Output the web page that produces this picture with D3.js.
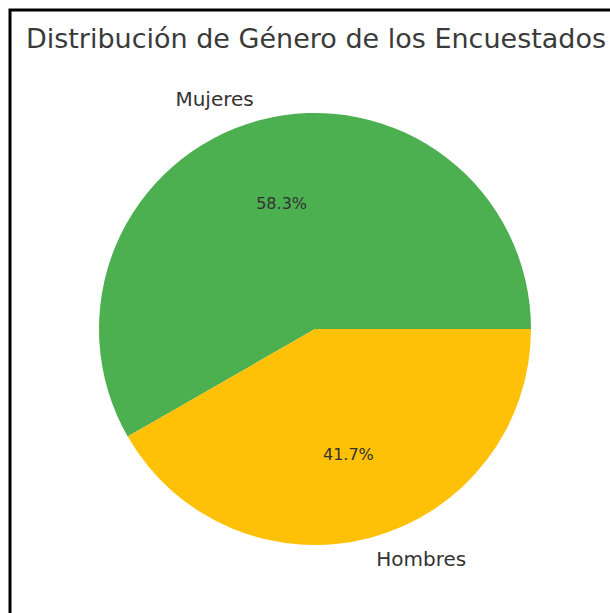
<!DOCTYPE html>
<html>
<head>
<meta charset="utf-8">
<script src="https://cdn.jsdelivr.net/npm/d3@7"></script>
<style>
  html, body { margin: 0; padding: 0; background: #fff; }
  svg { display: block; }
</style>
</head>
<body>
<div id="chart"></div>
<script>
const title = "Distribución de Género de los Encuestados";
const labels = ["Mujeres", "Hombres"];
const values = [58.3, 41.7];
const colors = ["#4caf50", "#ffc107"];

const width = 610, height = 613;
const cx = 315, cy = 329, radius = 216;

const svg = d3.select("#chart")
  .append("svg")
  .attr("width", width)
  .attr("height", height)
  .style("font-family", "'DejaVu Sans', sans-serif");

// frame
svg.append("rect")
  .attr("x", 10).attr("y", 10)
  .attr("width", width + 20).attr("height", height + 20)
  .attr("fill", "none")
  .attr("stroke", "#000")
  .attr("stroke-width", 3);

svg.append("text")
  .attr("x", 316)
  .attr("y", 48)
  .attr("text-anchor", "middle")
  .style("font-size", "27px")
  .style("fill", "#3a3a3a")
  .text(title);

const data = labels.map((l, i) => ({ label: l, value: values[i], color: colors[i] }));

// matplotlib style: start at 3 o'clock, counterclockwise
const pie = d3.pie()
  .value(d => d.value)
  .sort(null)
  .startAngle(Math.PI / 2)
  .endAngle(Math.PI / 2 - 2 * Math.PI);

const arc = d3.arc().innerRadius(0).outerRadius(radius);

const g = svg.append("g").attr("transform", `translate(${cx},${cy})`);
const arcs = pie(data);

g.selectAll("path")
  .data(arcs)
  .enter()
  .append("path")
  .attr("d", arc)
  .attr("fill", d => d.data.color);

const pos = (d, k) => {
  const a = (d.startAngle + d.endAngle) / 2;
  return [Math.sin(a) * radius * k, -Math.cos(a) * radius * k];
};

g.selectAll(".lbl")
  .data(arcs)
  .enter()
  .append("text")
  .attr("class", "lbl")
  .attr("x", d => pos(d, 1.1)[0])
  .attr("y", d => pos(d, 1.1)[1])
  .attr("dy", "0.35em")
  .attr("text-anchor", d => pos(d, 1.1)[0] < 0 ? "end" : "start")
  .style("font-size", "20px")
  .style("fill", "#333")
  .text(d => d.data.label);

g.selectAll(".pct")
  .data(arcs)
  .enter()
  .append("text")
  .attr("class", "pct")
  .attr("x", d => pos(d, 0.6)[0])
  .attr("y", d => pos(d, 0.6)[1])
  .attr("dy", "0.35em")
  .attr("text-anchor", "middle")
  .style("font-size", "16px")
  .style("fill", "#333")
  .text(d => d.data.value.toFixed(1) + "%");
</script>
</body>
</html>
